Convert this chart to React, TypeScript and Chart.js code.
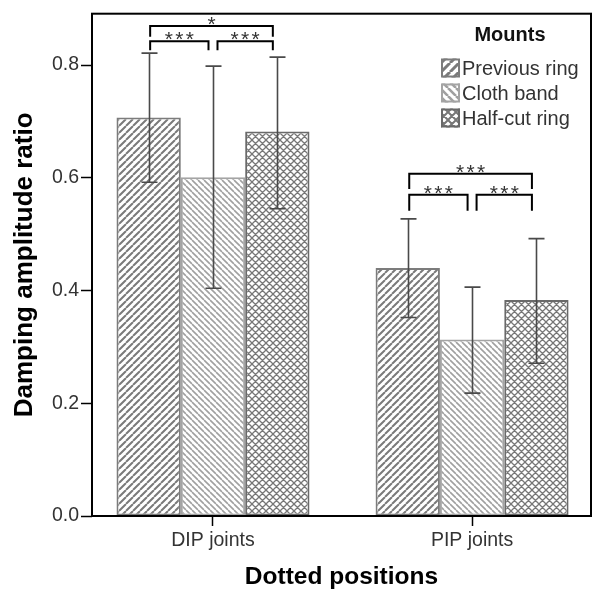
import React, { useEffect, useRef } from 'react';
import { Chart, registerables } from 'chart.js';

Chart.register(...registerables);

const categories = ['DIP joints', 'PIP joints'];
const seriesNames = ['Previous ring', 'Cloth band', 'Half-cut ring'];

const previousRing = [0.707, 0.44];
const previousRingLow = [0.592, 0.352];
const previousRingHigh = [0.821, 0.527];

const clothBand = [0.601, 0.313];
const clothBandLow = [0.404, 0.218];
const clothBandHigh = [0.798, 0.406];

const halfCutRing = [0.682, 0.383];
const halfCutRingLow = [0.545, 0.271];
const halfCutRingHigh = [0.814, 0.492];

const yTicks = [0, 0.2, 0.4, 0.6, 0.8];

const bracketCategory = [0, 0, 0, 1, 1, 1];
const bracketFrom = [0, 1, 0, 0, 1, 0];
const bracketTo = [1, 2, 2, 1, 2, 2];
const bracketTop = [0.842, 0.842, 0.869, 0.57, 0.57, 0.607];
const bracketBottom = [0.826, 0.826, 0.85, 0.5415, 0.5415, 0.58];
const bracketLabel = ['***', '***', '*', '***', '***', '***'];

const FONT = "'Liberation Sans', Arial, sans-serif";

function makePattern(ctx: CanvasRenderingContext2D, kind: string, color: string, lw: number, size: number) {
  const c = document.createElement('canvas');
  c.width = size;
  c.height = size;
  const g = c.getContext('2d')!;
  g.fillStyle = '#ffffff';
  g.fillRect(0, 0, size, size);
  g.strokeStyle = color;
  g.lineWidth = lw;
  g.beginPath();
  for (let k = -1; k <= 1; k++) {
    if (kind === 'fwd' || kind === 'cross') {
      g.moveTo(k * size, size);
      g.lineTo(k * size + size, 0);
    }
    if (kind === 'back' || kind === 'cross') {
      g.moveTo(k * size, 0);
      g.lineTo(k * size + size, size);
    }
  }
  g.stroke();
  return ctx.createPattern(c, 'repeat');
}

export default function App() {
  const ref = useRef<HTMLCanvasElement | null>(null);

  useEffect(() => {
    document.body.style.margin = '0';
    const canvas = ref.current!;
    const ctx = canvas.getContext('2d')!;

    const fills = [
      makePattern(ctx, 'fwd', '#7a7a7a', 2, 7),
      makePattern(ctx, 'back', '#a0a0a0', 1.6, 6),
      makePattern(ctx, 'cross', '#777777', 1.3, 7),
    ];
    const legendFills = [
      makePattern(ctx, 'fwd', '#7a7a7a', 3, 9),
      makePattern(ctx, 'back', '#a0a0a0', 2.6, 8),
      makePattern(ctx, 'cross', '#777777', 2, 8),
    ];
    const borders = ['#7c7c7c', '#a4a4a4', '#6a6a6a'];
    const values = [previousRing, clothBand, halfCutRing];
    const lows = [previousRingLow, clothBandLow, halfCutRingLow];
    const highs = [previousRingHigh, clothBandHigh, halfCutRingHigh];

    const datasets = seriesNames.map((name, s) => ({
      label: name,
      data: categories.map((_, i) => ({ x: i, y: values[s][i] })),
      backgroundColor: fills[s],
      borderColor: borders[s],
      borderWidth: 2,
      borderSkipped: false,
      categoryPercentage: 0.745,
      barPercentage: 1,
      low: lows[s],
      high: highs[s],
    }));

    const overlay = {
      id: 'overlay',
      afterDatasetsDraw(chart: any) {
        const c = chart.ctx as CanvasRenderingContext2D;
        const ys = chart.scales.y;
        const area = chart.chartArea;
        c.save();
        // error bars
        chart.data.datasets.forEach((ds: any, di: number) => {
          const meta = chart.getDatasetMeta(di);
          meta.data.forEach((bar: any, i: number) => {
            const x = Math.round(bar.x) + 0.5;
            const yl = ys.getPixelForValue(ds.low[i]);
            const yh = ys.getPixelForValue(ds.high[i]);
            c.strokeStyle = '#4a4a4a';
            c.lineWidth = 1.6;
            c.beginPath();
            c.moveTo(x, yl);
            c.lineTo(x, yh);
            c.moveTo(x - 8, yl);
            c.lineTo(x + 8, yl);
            c.moveTo(x - 8, yh);
            c.lineTo(x + 8, yh);
            c.stroke();
          });
        });
        // significance brackets
        bracketCategory.forEach((cat, b) => {
          const x1 = chart.getDatasetMeta(bracketFrom[b]).data[cat].x + (bracketFrom[b] === 1 ? 4.5 : 1.5);
          const x2 = chart.getDatasetMeta(bracketTo[b]).data[cat].x - 4.5;
          const yt = ys.getPixelForValue(bracketTop[b]);
          const yb = ys.getPixelForValue(bracketBottom[b]);
          c.strokeStyle = '#000';
          c.lineWidth = 2;
          c.beginPath();
          c.moveTo(x1, yb);
          c.lineTo(x1, yt);
          c.lineTo(x2, yt);
          c.lineTo(x2, yb);
          c.stroke();
          c.font = `21px ${FONT}`;
          c.fillStyle = '#333';
          c.textAlign = 'center';
          c.textBaseline = 'alphabetic';
          const label = bracketLabel[b];
          const m = c.measureText('*');
          const centerY = yt - 5;
          const baseline = centerY - (m.actualBoundingBoxDescent - m.actualBoundingBoxAscent) / 2;
          const step = 10.5;
          const mid = (x1 + x2) / 2;
          for (let k = 0; k < label.length; k++) {
            c.fillText(label[k], mid + (k - (label.length - 1) / 2) * step, baseline);
          }
        });
        // frame
        c.strokeStyle = '#000';
        c.lineWidth = 2;
        c.strokeRect(area.left, area.top, area.right - area.left, area.bottom - area.top);
        // legend
        c.textAlign = 'center';
        c.textBaseline = 'middle';
        c.fillStyle = '#111';
        c.font = `bold 20px ${FONT}`;
        c.fillText('Mounts', 510, 35);
        const rows = [68, 93, 118];
        seriesNames.forEach((name, s) => {
          const cy = rows[s];
          c.fillStyle = legendFills[s] as any;
          c.fillRect(441, cy - 9.5, 19, 19);
          c.strokeStyle = borders[s];
          c.lineWidth = 2;
          c.strokeRect(442, cy - 8.5, 17, 17);
          c.fillStyle = '#333';
          c.textAlign = 'left';
          c.font = `20px ${FONT}`;
          c.fillText(name, 462, cy + 1);
        });
        c.restore();
      },
    };

    const chart = new Chart(ctx, {
      type: 'bar',
      data: { datasets: datasets as any },
      options: {
        animation: false,
        responsive: false,
        layout: { padding: { top: 9, right: 3, left: 0, bottom: 0 } },
        plugins: { legend: { display: false }, tooltip: { enabled: false } },
        scales: {
          x: {
            type: 'linear',
            min: -0.467,
            max: 1.459,
            offset: false,
            afterBuildTicks: (s: any) => {
              s.ticks = categories.map((_, i) => ({ value: i }));
            },
            afterFit: (s: any) => {
              s.height = 77;
            },
            grid: { display: true, offset: false, drawOnChartArea: false, drawTicks: true, tickLength: 10, tickColor: '#000', tickWidth: 1.5 },
            border: { display: false },
            ticks: {
              autoSkip: false,
              maxRotation: 0,
              padding: 3,
              color: '#333',
              font: { family: FONT, size: 19.5 },
              callback: (v: any) => categories[v] ?? '',
            },
            title: {
              display: true,
              text: 'Dotted positions',
              color: '#000',
              font: { family: FONT, size: 24.5, weight: 'bold' },
              padding: { top: 0, bottom: 1 },
            },
          },
          y: {
            min: 0,
            max: 0.891,
            afterBuildTicks: (s: any) => {
              s.ticks = yTicks.map((v) => ({ value: v }));
            },
            afterFit: (s: any) => {
              s.width = 92;
            },
            grid: { display: true, drawOnChartArea: false, drawTicks: true, tickLength: 11, tickColor: '#000', tickWidth: 1.5 },
            border: { display: false },
            ticks: {
              padding: 2,
              color: '#333',
              font: { family: FONT, size: 19.5 },
              callback: (v: any) => Number(v).toFixed(1),
            },
            title: {
              display: true,
              text: 'Damping amplitude ratio',
              color: '#000',
              font: { family: FONT, size: 26, weight: 'bold' },
              padding: { top: 9.4, bottom: 0 },
            },
          },
        },
      },
      plugins: [overlay],
    });

    return () => chart.destroy();
  }, []);

  return (
    <div style={{ width: 594, height: 593 }}>
      <canvas ref={ref} width={594} height={593} style={{ display: 'block', width: 594, height: 593 }} />
    </div>
  );
}
